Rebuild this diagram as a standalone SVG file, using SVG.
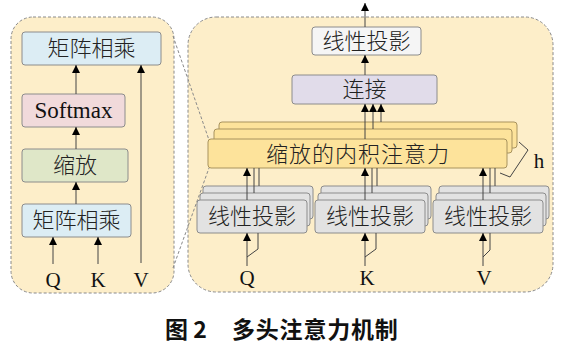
<svg xmlns="http://www.w3.org/2000/svg" width="561" height="349" viewBox="0 0 561 349">
<defs>
<marker id="ah" viewBox="0 0 10 10" refX="10" refY="5" markerUnits="userSpaceOnUse" markerWidth="10" markerHeight="8" orient="auto">
<path d="M0,0 L10,5 L0,10 z" fill="#000"/>
</marker>
<style>
.panel{fill:#fdeec9;stroke:#8a8a8a;stroke-width:1;stroke-dasharray:3,2}
.dash{fill:none;stroke:#8a8a8a;stroke-width:1;stroke-dasharray:3,2}
.box{stroke:#8c8c8c;stroke-width:1}
.blue{fill:#dcedf4}
.pink{fill:#f1dadb}
.green{fill:#dfe7c8}
.white{fill:#f5f5f5}
.lav{fill:#e1dcea}
.gold{fill:#fde39b;stroke:#a8935e;stroke-width:1}
.gray{fill:#e2e2e2}
.cn{font-family:"Noto Sans CJK SC","Noto Sans",sans-serif;font-size:22px;font-weight:300;fill:#222;text-anchor:middle}
.lat{font-family:"Liberation Serif",serif;font-size:21px;fill:#111;text-anchor:middle}
.ln{fill:none;stroke:#444;stroke-width:1}
.ar{fill:none;stroke:#444;stroke-width:1;marker-end:url(#ah)}
.title{font-family:"Noto Sans CJK SC","Noto Sans",sans-serif;font-size:23px;font-weight:bold;fill:#111}
</style>
</defs>

<rect class="panel" x="11" y="17" width="163" height="276" rx="22"/>
<rect class="panel" x="188" y="17" width="365" height="275" rx="28"/>
<line class="dash" x1="173" y1="36" x2="209" y2="140"/>
<line class="dash" x1="173" y1="268" x2="209" y2="168"/>

<g id="left-matmul-top"><rect class="box blue" x="22" y="32" width="139" height="33" rx="3"/><text class="cn" x="91.5" y="56">矩阵相乘</text></g>
<g id="left-softmax"><rect class="box pink" x="22" y="94" width="103" height="33" rx="3"/><text class="lat" x="73.5" y="118" style="font-size:23px">Softmax</text></g>
<g id="left-scale"><rect class="box green" x="22" y="149" width="106" height="33" rx="3"/><text class="cn" x="75" y="173">缩放</text></g>
<g id="left-matmul-bottom"><rect class="box blue" x="22" y="204" width="109" height="33" rx="3"/><text class="cn" x="76.5" y="228">矩阵相乘</text></g>
<g id="left-q"><text class="lat" x="53" y="287">Q</text></g>
<g id="left-k"><text class="lat" x="98" y="287">K</text></g>
<g id="left-v"><text class="lat" x="141" y="287">V</text></g>

<g id="right-linear-top"><rect class="box white" x="312" y="27" width="109" height="28" rx="3"/><text class="cn" x="366.5" y="49">线性投影</text></g>
<g id="right-concat"><rect class="box lav" x="292" y="75" width="145" height="29" rx="3"/><text class="cn" x="364.5" y="97">连接</text></g>
<g id="right-attention">
<rect class="gold" x="219" y="122" width="298" height="26" rx="3"/>
<rect class="gold" x="214" y="129" width="298" height="24" rx="3"/>
<rect class="gold" x="208" y="139" width="299" height="29" rx="3"/>
<text class="cn" x="358" y="162" style="letter-spacing:1px">缩放的内积注意力</text>
</g>
<g id="right-h">
<polyline class="ln" points="519,142 528,150 510,177 500,173"/>
<text class="lat" x="539" y="168">h</text>
</g>
<g id="linear-q">
<rect class="box gray" x="203" y="186" width="110" height="33" rx="3"/>
<rect class="box gray" x="200" y="193" width="110" height="33" rx="3"/>
<rect class="box gray" x="197" y="200" width="110" height="33" rx="3"/>
<text class="cn" x="252" y="224">线性投影</text>
</g>
<g id="linear-k">
<rect class="box gray" x="321" y="186" width="110" height="33" rx="3"/>
<rect class="box gray" x="318" y="193" width="110" height="33" rx="3"/>
<rect class="box gray" x="315" y="200" width="110" height="33" rx="3"/>
<text class="cn" x="370" y="224">线性投影</text>
</g>
<g id="linear-v">
<rect class="box gray" x="439" y="186" width="110" height="33" rx="3"/>
<rect class="box gray" x="436" y="193" width="110" height="33" rx="3"/>
<rect class="box gray" x="433" y="200" width="110" height="33" rx="3"/>
<text class="cn" x="488" y="224">线性投影</text>
</g>
<g id="right-q"><text class="lat" x="247" y="285">Q</text></g>
<g id="right-k"><text class="lat" x="367" y="285">K</text></g>
<g id="right-v"><text class="lat" x="484" y="285">V</text></g>

<g id="connectors">
<line class="ar" x1="76" y1="94" x2="76" y2="65"/>
<line class="ar" x1="76" y1="149" x2="76" y2="127"/>
<line class="ar" x1="76" y1="204" x2="76" y2="182"/>
<line class="ar" x1="53" y1="264" x2="53" y2="237"/>
<line class="ar" x1="98" y1="264" x2="98" y2="237"/>
<line class="ar" x1="141" y1="263" x2="141" y2="65"/>

<line class="ar" x1="365" y1="27" x2="365" y2="3"/>
<line class="ar" x1="365" y1="75" x2="365" y2="55"/>
<line class="ar" x1="365" y1="139" x2="365" y2="104"/>
<line class="ar" x1="373" y1="129" x2="373" y2="104"/>
<line class="ar" x1="381" y1="122" x2="381" y2="104"/>

<line class="ar" x1="247" y1="200" x2="247" y2="168"/>
<line class="ln" x1="254" y1="193" x2="254" y2="168"/>
<line class="ln" x1="259" y1="186" x2="259" y2="168"/>
<line class="ar" x1="365" y1="200" x2="365" y2="168"/>
<line class="ln" x1="372" y1="193" x2="372" y2="168"/>
<line class="ln" x1="377" y1="186" x2="377" y2="168"/>
<line class="ar" x1="483" y1="200" x2="483" y2="168"/>
<line class="ln" x1="490" y1="193" x2="490" y2="168"/>
<line class="ln" x1="495" y1="186" x2="495" y2="168"/>

<line class="ar" x1="247" y1="266" x2="247" y2="233"/>
<polyline class="ln" points="247,257 258,249 258,233"/>
<line class="ar" x1="365" y1="266" x2="365" y2="233"/>
<polyline class="ln" points="365,257 376,249 376,233"/>
<line class="ar" x1="483" y1="266" x2="483" y2="233"/>
<polyline class="ln" points="483,257 490,250 490,233"/>
</g>

<text class="title" x="165" y="338">图 2</text>
<text class="title" x="232" y="338" style="letter-spacing:0.8px">多头注意力机制</text>
</svg>
